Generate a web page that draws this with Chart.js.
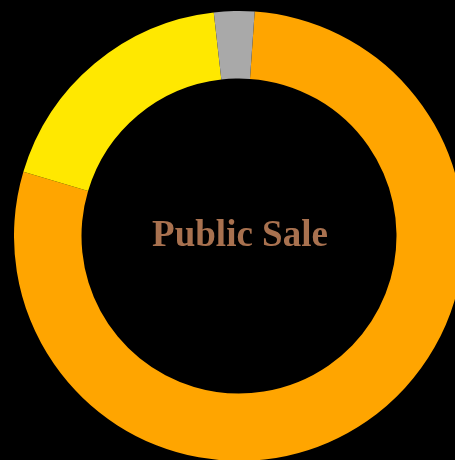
<!DOCTYPE html>
<html>
<head>
<meta charset="utf-8">
<script src="https://cdn.jsdelivr.net/npm/chart.js@4"></script>
<style>
  html, body { margin:0; padding:0; background:#000; overflow:hidden; width:455px; height:460px; }
  #wrap { position:absolute; left:14px; top:11px; width:450px; height:450px; }
</style>
</head>
<body>
<div id="wrap"><canvas id="chart"></canvas></div>
<script>
const labels = ['Public Sale', 'Reserve', 'Other'];
const values = [78.5, 18.6, 2.9];
const colors = ['#FFA500', '#FFE800', '#A9A9A9'];
const centerText = 'Public Sale';

const centerLabel = {
  id: 'centerLabel',
  afterDraw(chart) {
    const a = chart.chartArea;
    const ctx = chart.ctx;
    ctx.save();
    ctx.font = 'bold 37px "Liberation Serif", serif';
    ctx.fillStyle = '#A8714F';
    ctx.textAlign = 'center';
    ctx.textBaseline = 'alphabetic';
    ctx.fillText(centerText, (a.left + a.right) / 2 + 1, 246 - 11);
    ctx.restore();
  }
};

new Chart(document.getElementById('chart'), {
  type: 'doughnut',
  data: { labels, datasets: [{ data: values, backgroundColor: colors, borderWidth: 0, hoverOffset: 0 }] },
  options: {
    responsive: true,
    maintainAspectRatio: false,
    animation: false,
    cutout: '70%',
    rotation: 4,
    layout: { padding: 0 },
    plugins: { legend: { display: false }, tooltip: { enabled: false } }
  },
  plugins: [centerLabel]
});
</script>
</body>
</html>
